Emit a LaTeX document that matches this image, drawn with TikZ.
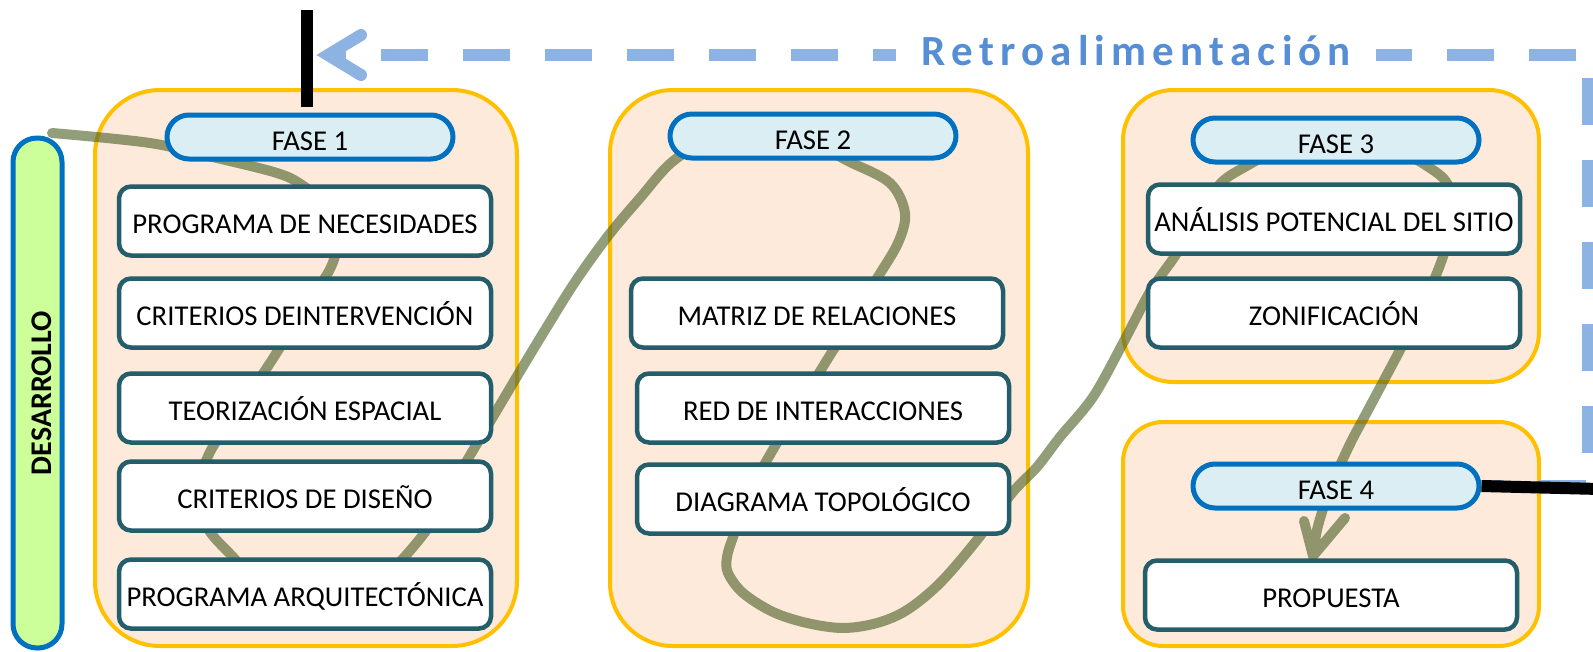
\documentclass[tikz,border=0pt]{standalone}
\usepackage{fontspec}
\setmainfont{Carlito}
\definecolor{orangeB}{HTML}{FFC000}
\definecolor{orangeF}{HTML}{FDEADA}
\definecolor{tealB}{HTML}{245E6B}
\definecolor{blueB}{HTML}{0070C0}
\definecolor{pillF}{HTML}{DAEEF3}
\definecolor{desF}{HTML}{CCFF99}
\definecolor{oliveL}{HTML}{4F6228}
\definecolor{feedB}{HTML}{8DB3E2}
\definecolor{retroT}{HTML}{558ED5}
\tikzset{
  bigbox/.style={draw=orangeB, fill=orangeF, line width=4pt, inner sep=0pt},
  itembox/.style={draw=tealB, fill=white, line width=4.5pt, rounded corners=12pt,
    minimum width=372pt, minimum height=69pt, inner sep=0pt,
    text height=24.5pt, text depth=0pt, font=\fontsize{28.7}{32}\selectfont},
  pill/.style={draw=blueB, fill=pillF, line width=5pt, rounded corners=22pt,
    minimum width=286pt, minimum height=44pt, inner sep=0pt,
    text height=26.5pt, text depth=0pt, font=\fontsize{28.7}{32}\selectfont},
  desbar/.style={draw=blueB, fill=desF, line width=5pt, rounded corners=24pt,
    minimum width=510pt, minimum height=49pt, inner sep=0pt, rotate=90,
    text height=28pt, text depth=0pt, font=\fontsize{30}{34}\selectfont\bfseries},
  olivepath/.style={draw=oliveL, draw opacity=0.62, line width=10pt,
    line cap=round, line join=round},
  feedback/.style={draw=feedB, line width=11.5pt, dash pattern=on 47pt off 35pt,
    dash phase=24.5pt, line join=miter},
  feedhead/.style={draw=feedB, line width=12pt, line cap=round, line join=miter},
  blackline/.style={draw=black, line width=12pt},
  retro/.style={fill=white, text=retroT, inner xsep=25pt, inner ysep=4pt,
    font=\fontsize{43}{48}\selectfont\bfseries}
}
\begin{document}
\begin{tikzpicture}[x=1pt, y=-1pt]
\useasboundingbox (0,0) rectangle (1593,651);

% side bar
\node[desbar] (des) at (37.5,393) {DESARROLLO};

% phase containers
\node[bigbox, minimum width=422pt, minimum height=556pt, rounded corners=65pt] (g1) at (306,368) {};
\node[bigbox, minimum width=418pt, minimum height=556pt, rounded corners=63pt] (g2) at (819,368) {};
\node[bigbox, minimum width=416pt, minimum height=292pt, rounded corners=50pt] (g3) at (1331,236) {};
\node[bigbox, minimum width=416pt, minimum height=224pt, rounded corners=40pt] (g4) at (1331,534) {};

% olive flow line
\draw[olivepath] plot[smooth, tension=0.55] coordinates {
  (52,133) (150,143) (217,158) (277,173) (302,185) (326,206) (338,232) (331,267)
  (301,313) (272,360) (241,406) (210,452) (199,490) (207,527) (233,557)
  (270,595) (318,612) (368,595) (400,562) (428,528) (450,490) (472,452)
  (497,410) (519,373) (545,330) (575,282) (608,236) (640,198) (672,162)
  (710,140) (760,132) (820,148) (850,162) (890,183) (905,213) (898,243)
  (876,280) (852,320) (827,360) (799,406) (771,453) (748,495) (733,537)
  (727,557) (728,573) (743,593) (773,612) (807,623) (843,628) (877,623)
  (907,610) (940,583) (977,540) (1012,493) (1037,467) (1060,437) (1093,397)
  (1123,343) (1147,297) (1160,277) (1177,253) (1200,215) (1220,184) (1243,168)
  (1280,150) (1335,140) (1395,150) (1430,168) (1448,185) (1452,215) (1445,250)
  (1434,280) (1418,315) (1400,350) (1383,382) (1367,412) (1352,440) (1338,470)
  (1326,500) (1317,530) (1313,556)}
  (1304,521) -- (1313,556) -- (1345,518);

% phase 1 items
\node[itembox] (n1) at (305,221) {PROGRAMA DE NECESIDADES};
\node[itembox] (n2) at (305,313) {CRITERIOS DEINTERVENCIÓN};
\node[itembox] (n3) at (305,408) {TEORIZACIÓN ESPACIAL};
\node[itembox] (n4) at (305,496) {CRITERIOS DE DISEÑO};
\node[itembox] (n5) at (305,594) {PROGRAMA ARQUITECTÓNICA};
% phase 2 items
\node[itembox] (m1) at (817,313) {MATRIZ DE RELACIONES};
\node[itembox] (m2) at (823,408) {RED DE INTERACCIONES};
\node[itembox] (m3) at (823,499) {DIAGRAMA TOPOLÓGICO};
% phase 3 items
\node[itembox] (z1) at (1334,219) {ANÁLISIS POTENCIAL DEL SITIO};
\node[itembox] (z2) at (1334,313) {ZONIFICACIÓN};
% phase 4 item
\node[itembox] (p1) at (1331,595) {PROPUESTA};

% phase labels
\node[pill] (f1) at (310,137) {FASE 1};
\node[pill] (f2) at (813,136) {FASE 2};
\node[pill] (f3) at (1336,140) {FASE 3};
\node[pill] (f4) at (1336,486) {FASE 4};

% feedback loop
\coordinate (fbc1) at (1588,486);
\coordinate (fbc2) at (1588,55);
\coordinate (fbend) at (340,55);
\coordinate (ahA) at (361,35);
\coordinate (ahT) at (328,55);
\coordinate (ahB) at (361,75);
\draw[feedback] (f4.east) -- (fbc1) -- (fbc2) -- (fbend);
\draw[feedhead] (ahA) -- (ahT) -- (ahB);
\node[retro, anchor=base] (retro) at (1136,65)
  {\makebox[430pt][s]{R\hfil e\hfil t\hfil r\hfil o\hfil a\hfil l\hfil i\hfil m\hfil e\hfil n\hfil t\hfil a\hfil c\hfil i\hfil ó\hfil n}};

% black connector stubs
\coordinate (bt) at (307,10);
\coordinate (bb) at (307,107);
\draw[blackline] (bt) -- (bb);
\coordinate (bend) at (1600,489);
\draw[blackline] (f4.east) -- (bend);
\end{tikzpicture}
\end{document}
